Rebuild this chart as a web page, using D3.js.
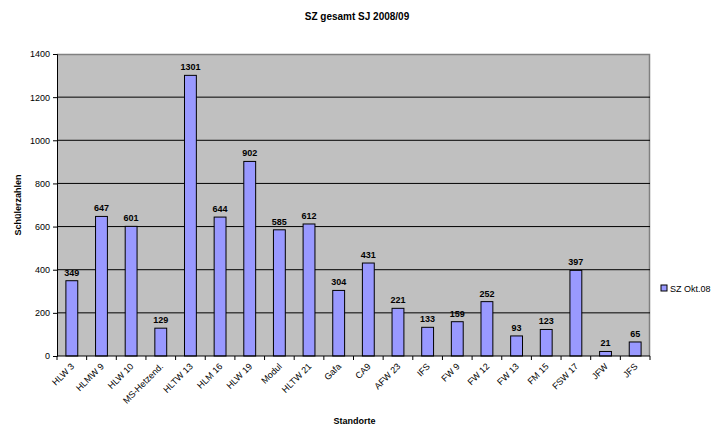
<!DOCTYPE html>
<html lang="de">
<head>
<meta charset="UTF-8">
<title>SZ gesamt SJ 2008/09</title>
<script src="https://d3js.org/d3.v7.min.js"></script>
<style>
    body { margin: 0; background: #fff; font-family: "Liberation Sans", Arial, sans-serif; }
    .axis text { font-size: 9px; fill: #000; }
    .axis path, .axis line { stroke: #000; }
    .val { font-size: 9px; font-weight: bold; text-anchor: middle; }
</style>
</head>
<body>
<script>
const standorte = ["HLW 3", "HLMW 9", "HLW 10", "MS-Hetzend.", "HLTW 13", "HLM 16", "HLW 19", "Modul",
    "HLTW 21", "Gafa", "CA9", "AFW 23", "IFS", "FW 9", "FW 12", "FW 13", "FM 15", "FSW 17", "JFW", "JFS"];
const schueler = [349, 647, 601, 129, 1301, 644, 902, 585, 612, 304, 431, 221, 133, 159, 252, 93, 123, 397, 21, 65];
const yTicks = [0, 200, 400, 600, 800, 1000, 1200, 1400];
const seriesName = "SZ Okt.08";

const W = 714, H = 427;
const m = {top: 54, right: 64, bottom: 71, left: 57};
const w = W - m.left - m.right, h = H - m.top - m.bottom;

const svg = d3.select("body").append("svg").attr("width", W).attr("height", H);

svg.append("text").attr("x", 357).attr("y", 20)
    .attr("text-anchor", "middle").attr("font-size", 10).attr("font-weight", "bold")
    .text("SZ gesamt SJ 2008/09");

const g = svg.append("g").attr("transform", `translate(${m.left},${m.top})`);

const x = d3.scaleBand().domain(standorte).range([0, w]).paddingInner(0.6).paddingOuter(0.3);
const xb = d3.scaleBand().domain(standorte).range([0, w]);
const y = d3.scaleLinear().domain([0, 1400]).range([h, 0]);

// plot area
g.append("rect").attr("width", w).attr("height", h).attr("fill", "#c0c0c0");
g.append("path").attr("d", `M0,0.5H${w - 0.5}V${h}`).attr("fill", "none")
    .attr("stroke", "#808080").attr("stroke-width", 1.5);

// grid
g.selectAll(".grid").data(yTicks.filter(t => t > 0 && t < 1400)).enter().append("line")
    .attr("x1", 0).attr("x2", w).attr("y1", d => y(d)).attr("y2", d => y(d))
    .attr("stroke", "#000").attr("stroke-width", 1);

// bars
g.selectAll(".bar").data(schueler).enter().append("rect")
    .attr("x", (d, i) => x(standorte[i]))
    .attr("width", x.bandwidth())
    .attr("y", d => y(d))
    .attr("height", d => h - y(d))
    .attr("fill", "#9999ff").attr("stroke", "#000").attr("stroke-width", 1);

g.selectAll(".val").data(schueler).enter().append("text")
    .attr("class", "val")
    .attr("x", (d, i) => x(standorte[i]) + x.bandwidth() / 2)
    .attr("y", d => y(d) - 5)
    .text(d => d);

// y axis
g.append("g").attr("class", "axis")
    .call(d3.axisLeft(y).tickValues(yTicks).tickSize(4).tickPadding(3).tickFormat(d3.format("d")));

// x axis
const xAxis = g.append("g").attr("class", "axis").attr("transform", `translate(0,${h})`);
xAxis.append("line").attr("x1", 0).attr("x2", w).attr("stroke", "#000");
xAxis.selectAll(".tk").data(standorte.concat([null])).enter().append("line")
    .attr("x1", (d, i) => i * xb.bandwidth()).attr("x2", (d, i) => i * xb.bandwidth())
    .attr("y1", 0).attr("y2", 4).attr("stroke", "#000");
xAxis.selectAll(".lbl").data(standorte).enter().append("text")
    .attr("transform", d => `translate(${xb(d) + xb.bandwidth() / 2 + 3},${11}) rotate(-45)`)
    .attr("text-anchor", "end")
    .text(d => d);

// axis titles
svg.append("text").attr("transform", `translate(21,${m.top + h / 2}) rotate(-90)`)
    .attr("text-anchor", "middle").attr("font-size", 9).attr("font-weight", "bold")
    .text("Schülerzahlen");
svg.append("text").attr("x", m.left + w / 2 + 1).attr("y", 424)
    .attr("text-anchor", "middle").attr("font-size", 9).attr("font-weight", "bold")
    .text("Standorte");

// legend
const lg = svg.append("g").attr("transform", "translate(661,285)");
lg.append("rect").attr("width", 6).attr("height", 6).attr("fill", "#9999ff").attr("stroke", "#000");
lg.append("text").attr("x", 9).attr("y", 7).attr("font-size", 9).text(seriesName);
</script>
</body>
</html>
